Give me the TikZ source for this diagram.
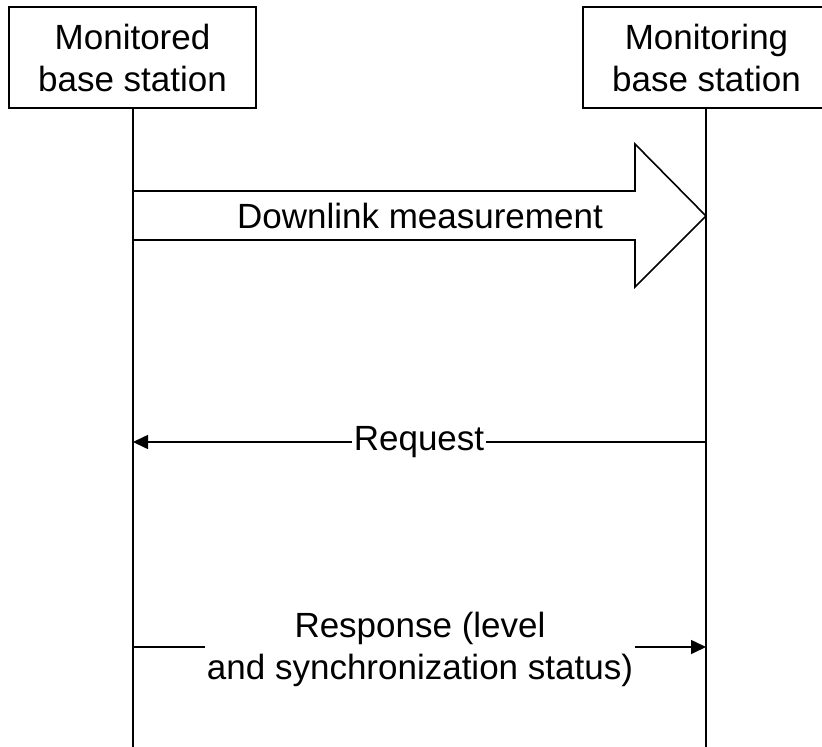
\documentclass[tikz,border=0pt]{standalone}
\usepackage{fontspec}
\setmainfont{Liberation Sans}
\usetikzlibrary{arrows.meta}
\begin{document}
\begin{tikzpicture}[x=1pt,y=-1pt,
  every node/.style={font=\fontsize{35}{42}\selectfont},
  entity/.style={draw,line width=1.6pt,align=center,inner sep=0pt},
  life/.style={line width=1.6pt},
  msg/.style={line width=1.6pt,-{Triangle[length=15pt,width=14pt]}},
  lbl/.style={fill=white,inner xsep=2pt,inner ysep=1pt,align=center}]
\useasboundingbox (0,0) rectangle (822,747);
\clip (0,0) rectangle (822,747);
\node[entity,minimum width=247pt,minimum height=101pt] (A) at (132.5,57.5) {Monitored\\base station};
\node[entity,minimum width=247pt,minimum height=101pt] (B) at (706.5,57.5) {Monitoring\\base station};
\coordinate (Aend) at (133,747);
\coordinate (Bend) at (706,747);
\draw[life] (A.south -| Aend) -- (Aend);
\draw[life] (B.south -| Bend) -- (Bend);
% big downlink arrow
\coordinate (d1) at (133,191);
\coordinate (dtip) at (706,216);
\draw[line width=1.6pt,line join=miter] (d1) -- (635,191) -- (635,144) -- (dtip) -- (635,287) -- (635,240) -- (133,240);
\node (dl) at (420,216) {Downlink measurement};
% request
\coordinate (rqB) at (706,442);
\coordinate (rqA) at (133,442);
\draw[msg] (rqB) -- (rqA);
\node[lbl] (rq) at (419,442) {Request};
% response
\coordinate (rsA) at (133,647);
\coordinate (rsB) at (706,647);
\draw[msg] (rsA) -- (rsB);
\node[lbl] (rs) at (420,649) {Response (level\\and synchronization status)};
\end{tikzpicture}
\end{document}
